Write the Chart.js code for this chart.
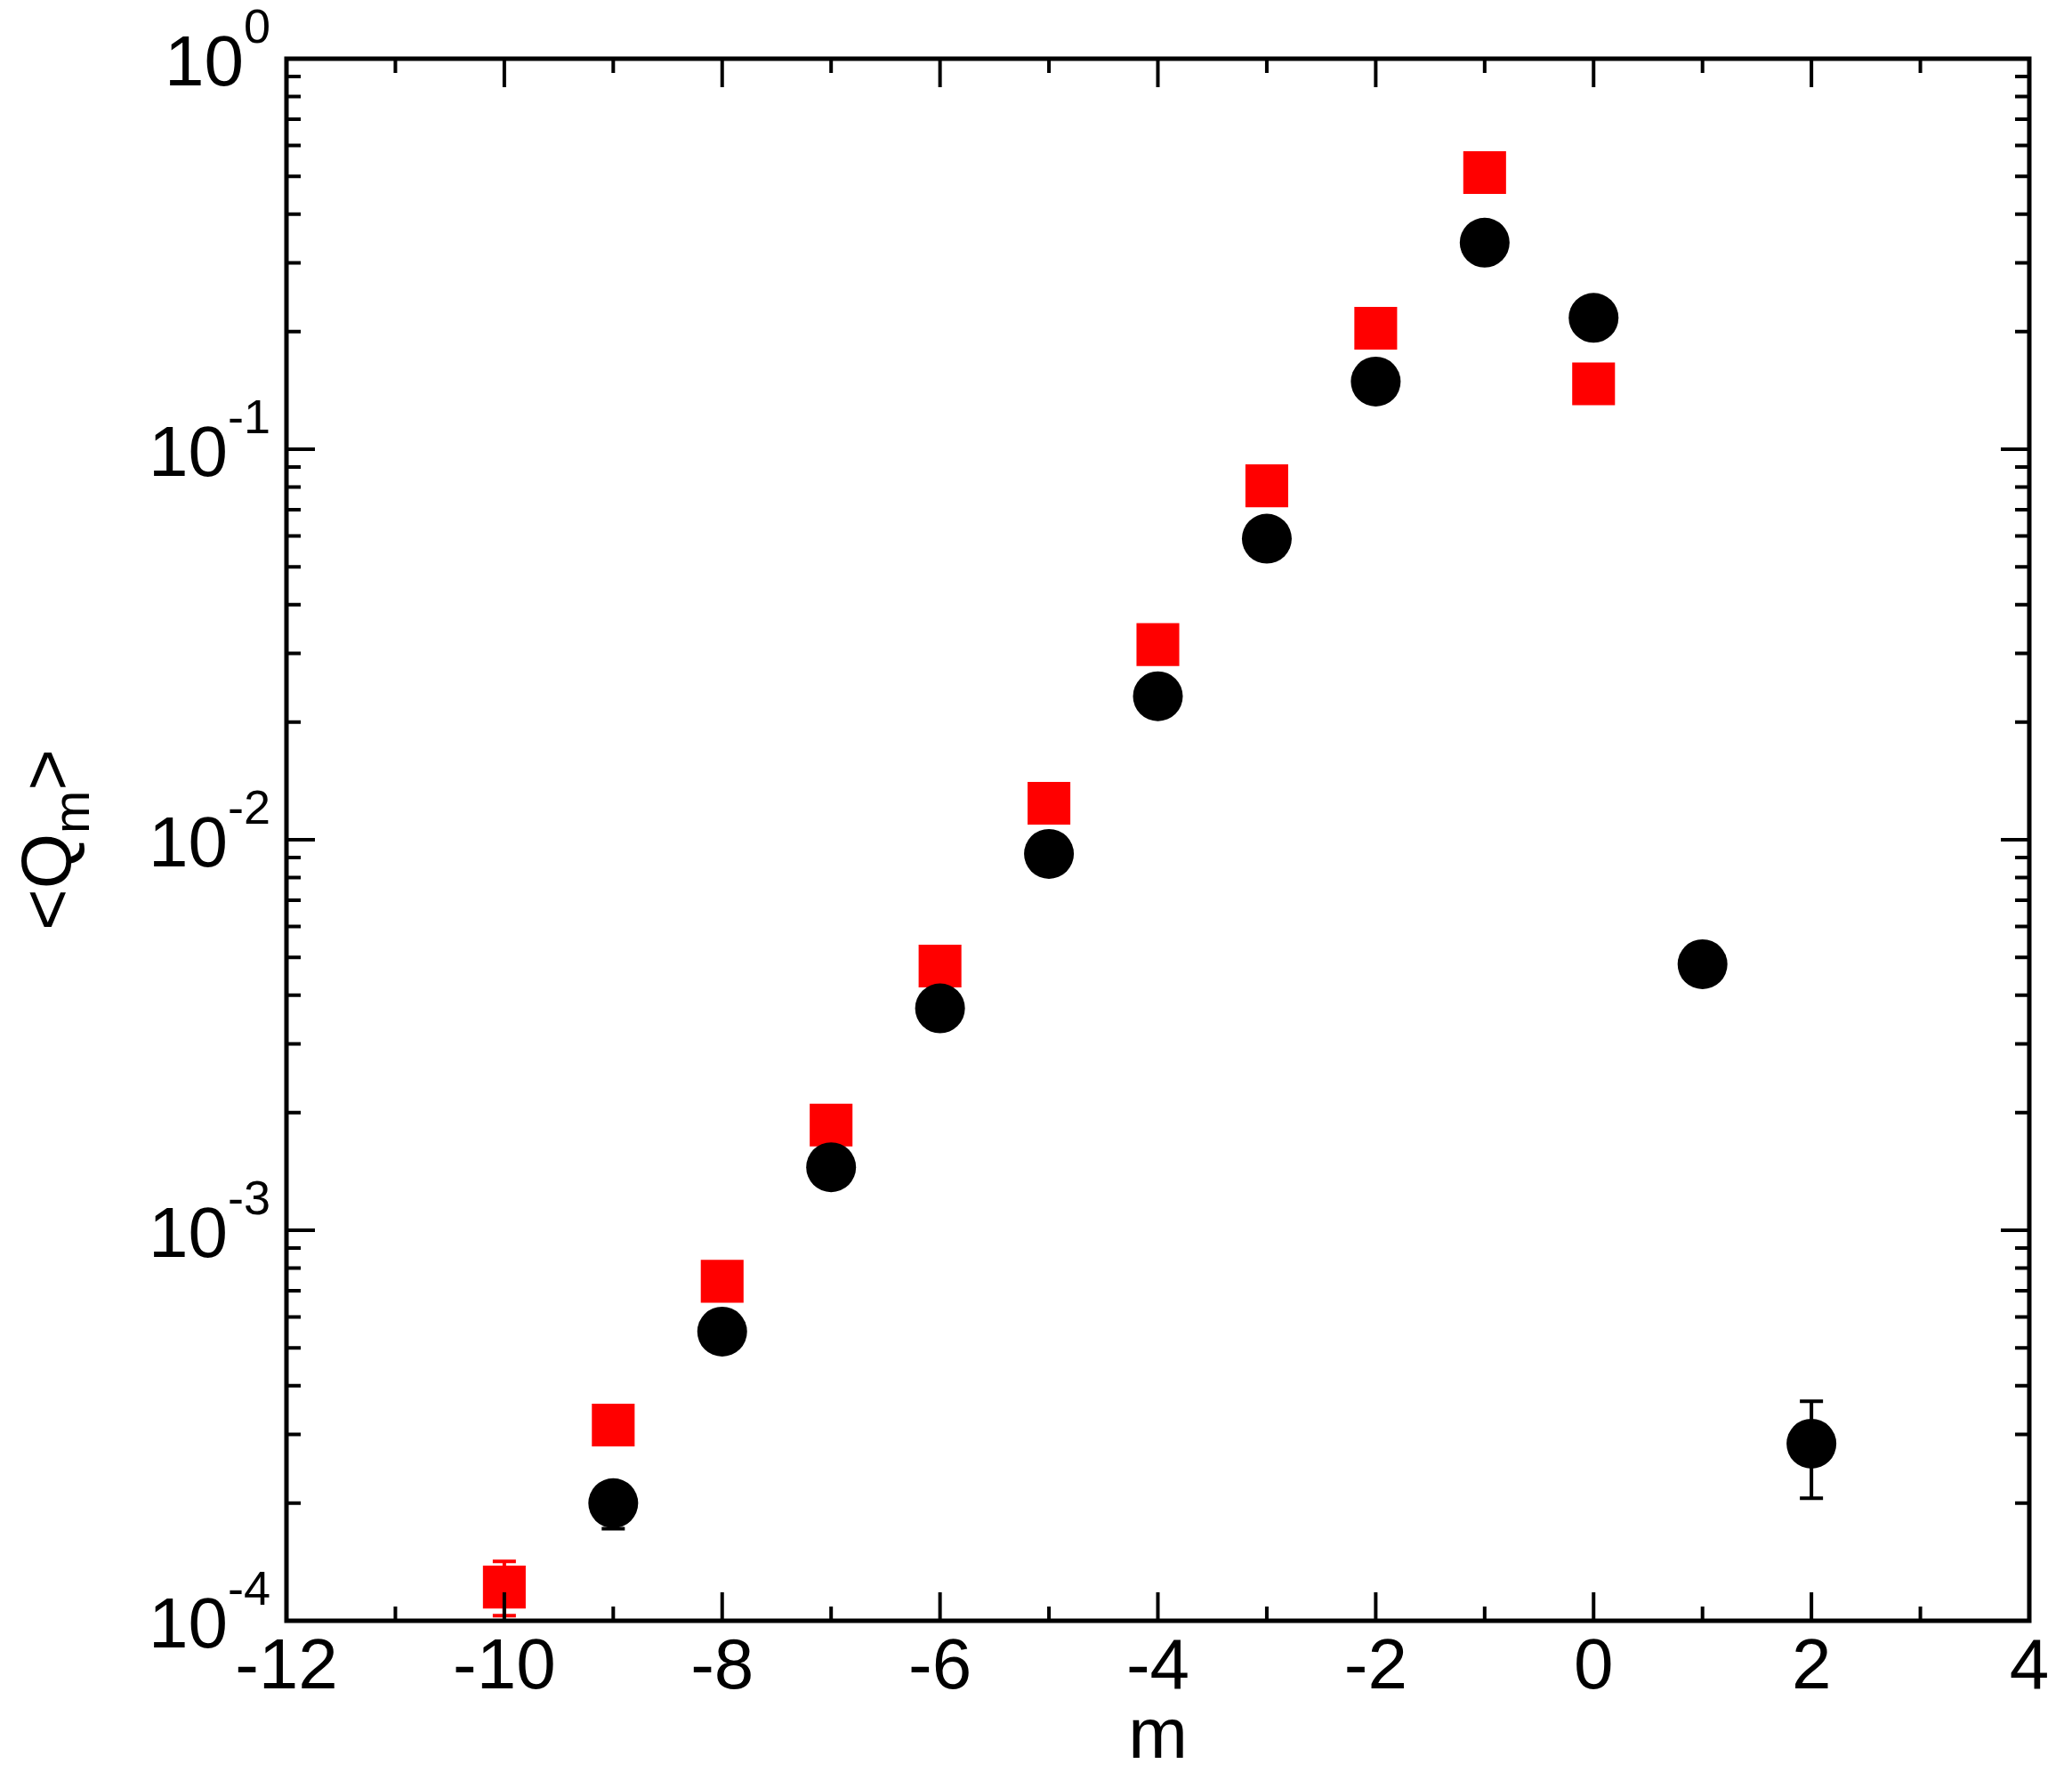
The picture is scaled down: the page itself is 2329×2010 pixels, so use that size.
<!DOCTYPE html>
<html><head><meta charset="utf-8">
<script src="https://cdn.jsdelivr.net/npm/chart.js@4"></script>
<style>html,body{margin:0;padding:0;background:#fff}</style>
</head><body>
<canvas id="c" width="2329" height="2010" style="width:2329px;height:2010px"></canvas>
<script>
const blackM = [-9, -8, -7, -6, -5, -4, -3, -2, -1, 0, 1, 2];
const blackQ = [2.0e-4, 5.5e-4, 1.45e-3, 3.7e-3, 9.2e-3, 0.0233, 0.059, 0.149, 0.338, 0.217, 4.8e-3, 2.84e-4];
const blackLo = [1.72e-4, null, null, null, null, null, null, null, null, null, null, 2.06e-4];
const blackHi = [2.25e-4, null, null, null, null, null, null, null, null, null, null, 3.65e-4];
const redM = [-10, -9, -8, -7, -6, -5, -4, -3, -2, -1, 0];
const redQ = [1.22e-4, 3.17e-4, 7.4e-4, 1.86e-3, 4.75e-3, 0.0124, 0.0316, 0.0806, 0.204, 0.511, 0.147];
const redLo = [1.03e-4, null, null, null, null, null, null, null, null, null, null];
const redHi = [1.42e-4, null, null, null, null, null, null, null, null, null, null];
const xTicks = [-12, -10, -8, -6, -4, -2, 0, 2, 4];
const yExps = [-4, -3, -2, -1, 0];

const FONT = '"Liberation Sans", Arial, sans-serif';
const pts = (xs, ys) => xs.map((x, i) => ({ x, y: ys[i] }));

function errBars(ctx, x, y, xs, lo, hi, col) {
  ctx.strokeStyle = col;
  xs.forEach((m, i) => {
    if (lo[i] == null) return;
    const px = x.getPixelForValue(m), y1 = y.getPixelForValue(lo[i]), y2 = y.getPixelForValue(hi[i]);
    ctx.beginPath();
    ctx.moveTo(px, y1); ctx.lineTo(px, y2);
    ctx.moveTo(px - 13, y1); ctx.lineTo(px + 13, y1);
    ctx.moveTo(px - 13, y2); ctx.lineTo(px + 13, y2);
    ctx.stroke();
  });
}

const decor = {
  id: 'decor',
  beforeDatasetsDraw(chart) {
    const { ctx, scales: { x, y } } = chart;
    ctx.save();
    ctx.lineWidth = 4;
    errBars(ctx, x, y, redM, redLo, redHi, '#ff0000');
    ctx.restore();
  },
  afterDatasetsDraw(chart) {
    const { ctx, chartArea: a, scales: { x, y } } = chart;
    ctx.save();
    ctx.lineWidth = 4;
    ctx.fillStyle = '#000';
    errBars(ctx, x, y, blackM, blackLo, blackHi, '#000');
    ctx.strokeStyle = '#000';
    ctx.lineWidth = 5;
    ctx.strokeRect(a.left, a.top, a.right - a.left, a.bottom - a.top);
    ctx.lineWidth = 4;
    for (let v = -12; v <= 4; v++) {
      const px = x.getPixelForValue(v), len = v % 2 === 0 ? 32 : 16;
      ctx.beginPath();
      ctx.moveTo(px, a.bottom); ctx.lineTo(px, a.bottom - len);
      ctx.moveTo(px, a.top); ctx.lineTo(px, a.top + len);
      ctx.stroke();
    }
    for (let e = -4; e <= 0; e++) {
      for (let k = 1; k <= 9; k++) {
        if (e === 0 && k > 1) break;
        const py = y.getPixelForValue(k * Math.pow(10, e)), len = k === 1 ? 32 : 16;
        ctx.beginPath();
        ctx.moveTo(a.left, py); ctx.lineTo(a.left + len, py);
        ctx.moveTo(a.right, py); ctx.lineTo(a.right - len, py);
        ctx.stroke();
      }
    }
    ctx.font = '500 80px ' + FONT;
    ctx.textAlign = 'center';
    ctx.textBaseline = 'top';
    xTicks.forEach(v => ctx.fillText(String(v), x.getPixelForValue(v), a.bottom + 14));
    ctx.fillText('m', (a.left + a.right) / 2, a.bottom + 92);
    yExps.forEach(e => {
      const py = y.getPixelForValue(Math.pow(10, e));
      ctx.font = '54px ' + FONT;
      ctx.textAlign = 'right';
      ctx.textBaseline = 'alphabetic';
      const sup = String(e);
      const sw = ctx.measureText(sup).width;
      ctx.fillText(sup, a.left - 18, py - 18);
      ctx.font = '80px ' + FONT;
      ctx.fillText('10', a.left - 18 - sw, py + 30);
    });
    ctx.translate(80, (a.top + a.bottom) / 2);
    ctx.rotate(-Math.PI / 2);
    ctx.textAlign = 'left';
    ctx.textBaseline = 'alphabetic';
    ctx.font = '80px ' + FONT;
    const w1 = ctx.measureText('<Q').width;
    ctx.font = '58px ' + FONT;
    const w2 = ctx.measureText('m').width;
    ctx.font = '80px ' + FONT;
    const w3 = ctx.measureText('>').width;
    const sx = -(w1 + w2 + w3) / 2;
    ctx.fillText('<Q', sx, 0);
    ctx.font = '58px ' + FONT;
    ctx.fillText('m', sx + w1, 20);
    ctx.font = '80px ' + FONT;
    ctx.fillText('>', sx + w1 + w2, 0);
    ctx.restore();
  }
};

new Chart(document.getElementById('c').getContext('2d'), {
  type: 'scatter',
  data: {
    datasets: [
      { label: 'black', data: pts(blackM, blackQ), pointStyle: 'circle', pointRadius: 28, pointHoverRadius: 28, backgroundColor: '#000', borderColor: '#000', borderWidth: 0 },
      { label: 'red', data: pts(redM, redQ), pointStyle: 'rect', pointRadius: 34, pointHoverRadius: 34, backgroundColor: '#ff0000', borderColor: '#ff0000', borderWidth: 0 }
    ]
  },
  options: {
    responsive: false, animation: false,
    layout: { padding: { left: 322, right: 48, top: 66, bottom: 188 } },
    plugins: { legend: { display: false }, tooltip: { enabled: false } },
    scales: {
      x: { type: 'linear', min: -12, max: 4, ticks: { display: false }, grid: { display: false }, border: { display: false }, afterFit: s => { s.height = 0; } },
      y: { type: 'logarithmic', min: 1e-4, max: 1, ticks: { display: false }, grid: { display: false }, border: { display: false }, afterFit: s => { s.width = 0; } }
    }
  },
  plugins: [decor]
});
</script>
</body></html>
